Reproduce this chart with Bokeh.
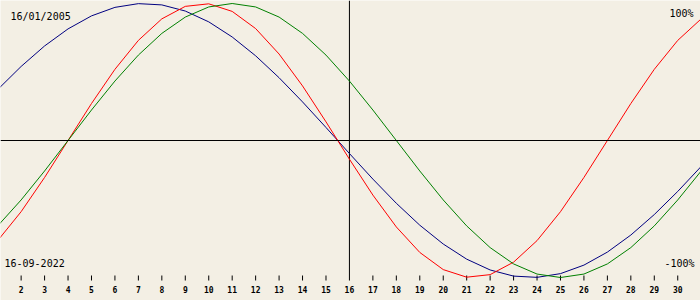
from bokeh.plotting import figure
from bokeh.models import Range1d, Label, Span
from bokeh.core.properties import value
from bokeh.embed import file_html
from bokeh.resources import INLINE

# ---- data ----
days = list(range(1, 32))
physical = [-0.7308, -0.5196, -0.2698, 0.0, 0.2698, 0.5196, 0.7308, 0.8879, 0.9791, 0.9977,
            0.9423, 0.8170, 0.6311, 0.3984, 0.1362, -0.1362, -0.3984, -0.6311, -0.8170, -0.9423,
            -0.9977, -0.9791, -0.8879, -0.7308, -0.5196, -0.2698, 0.0, 0.2698, 0.5196, 0.7308, 0.8879]
emotional = [-0.6235, -0.4339, -0.2225, 0.0, 0.2225, 0.4339, 0.6235, 0.7818, 0.9010, 0.9749,
             1.0, 0.9749, 0.9010, 0.7818, 0.6235, 0.4339, 0.2225, 0.0, -0.2225, -0.4339,
             -0.6235, -0.7818, -0.9010, -0.9749, -1.0, -0.9749, -0.9010, -0.7818, -0.6235, -0.4339, -0.2225]
intellectual = [0.3717, 0.5406, 0.6901, 0.8146, 0.9096, 0.9718, 0.9989, 0.9898, 0.9450, 0.8660,
                0.7557, 0.6182, 0.4582, 0.2817, 0.0951, -0.0951, -0.2817, -0.4582, -0.6182, -0.7557,
                -0.8660, -0.9450, -0.9898, -0.9989, -0.9718, -0.9096, -0.8146, -0.6901, -0.5406, -0.3717, -0.1893]
tick_days = list(range(2, 31))
tick_labels = [str(d) for d in tick_days]
today = 16
birth_label = "16/01/2005"
date_label = "16-09-2022"
top_label = "100%"
bottom_label = "-100%"

W, H = 700, 300
BG = "#F3EFE4"
X0 = 1.12
X1 = X0 + W / 23.45
Y1, Y0 = 140 / 137.0, -160 / 137.0


def y_at(px):
    return Y1 - px / H * (Y1 - Y0)


p = figure(width=W, height=H, output_backend="svg", toolbar_location=None,
           x_range=Range1d(X0, X1), y_range=Range1d(Y0, Y1),
           min_border=0, min_border_left=0, min_border_right=0,
           min_border_top=0, min_border_bottom=0)
p.axis.visible = False
p.grid.visible = False
p.outline_line_color = None
p.background_fill_color = BG
p.border_fill_color = BG

# zero line
p.add_layout(Span(location=0, dimension="width", line_color="black", line_width=1))
# today line
p.segment(x0=[today], y0=[Y1], x1=[today], y1=[y_at(280)], line_color="black", line_width=1)
# ticks
tick_only = [d for d in tick_days if d != today]
p.segment(x0=tick_only, y0=[y_at(275)] * len(tick_only), x1=tick_only,
          y1=[y_at(280)] * len(tick_only), line_color="black", line_width=1)
p.text(x=tick_days, y=[y_at(288.5)] * len(tick_days), text=tick_labels,
       text_font=value("DejaVu Sans Mono"), text_font_size="8px", text_font_style="bold",
       text_align="center", text_baseline="middle", text_color="black")

# curves
p.line(days, intellectual, line_color="#000080", line_width=1)
p.line(days, physical, line_color="#FF0000", line_width=1)
p.line(days, emotional, line_color="#008000", line_width=1)

font = "DejaVu Sans Mono"
p.add_layout(Label(x=10, y=H - 16, x_units="screen", y_units="screen", text=birth_label,
                   text_font=font, text_font_size="10px", text_baseline="middle", text_color="black"))
p.add_layout(Label(x=4, y=H - 262, x_units="screen", y_units="screen", text=date_label,
                   text_font=font, text_font_size="10px", text_baseline="middle", text_color="black"))
p.add_layout(Label(x=693, y=H - 12.5, x_units="screen", y_units="screen", text=top_label,
                   text_font=font, text_font_size="10px", text_align="right",
                   text_baseline="middle", text_color="black"))
p.add_layout(Label(x=694, y=H - 262.5, x_units="screen", y_units="screen", text=bottom_label,
                   text_font=font, text_font_size="10px", text_align="right",
                   text_baseline="middle", text_color="black"))

open("out.html", "w").write(file_html(p, INLINE))
